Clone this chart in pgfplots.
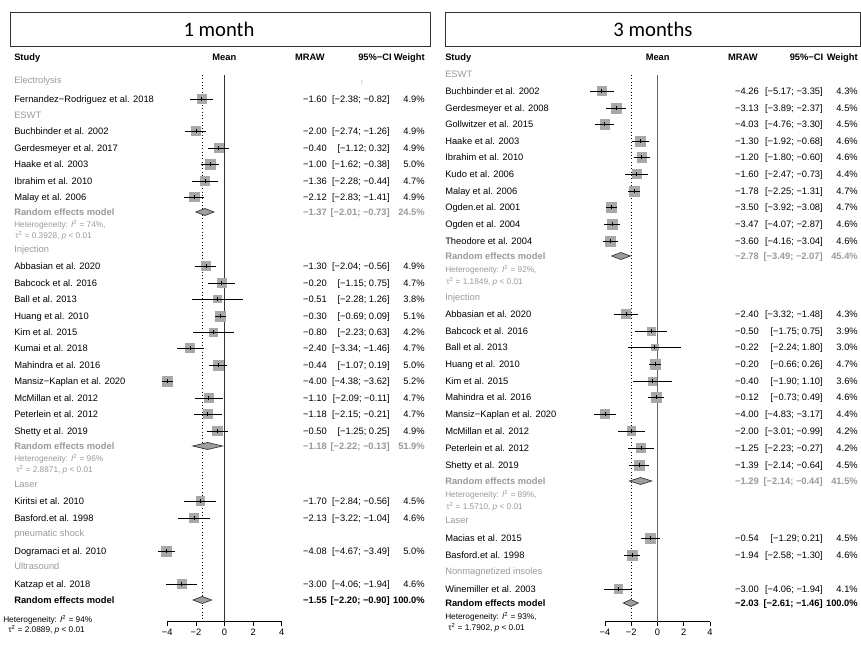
\documentclass[border=0pt]{standalone}
\usepackage{pgfplots}
\pgfplotsset{compat=1.18}
\usepackage{pgfplotstable}
\usepackage{fontspec}
\setmainfont{Liberation Sans}
\newfontfamily\titlefont{Carlito}
\definecolor{txtgray}{gray}{0.6}
\definecolor{sqgray}{gray}{0.66}
\definecolor{dmgray}{gray}{0.62}
\newcommand\fs{\fontsize{7}{8}\selectfont}
\newcommand\hs{\fontsize{6.2}{7}\selectfont}

% left panel (1 month): y = row position, m = MRAW, lo/hi = 95% CI, w = weight
\pgfplotstableread{
y m lo hi w
99 -1.60 -2.38 -0.82 4.9
131 -2.00 -2.74 -1.26 4.9
148 -0.40 -1.12 0.32 4.9
164 -1.00 -1.62 -0.38 5.0
181 -1.36 -2.28 -0.44 4.7
197 -2.12 -2.83 -1.41 4.9
266 -1.30 -2.04 -0.56 4.9
283 -0.20 -1.15 0.75 4.7
299 -0.51 -2.28 1.26 3.8
316 -0.30 -0.69 0.09 5.1
332 -0.80 -2.23 0.63 4.2
348 -2.40 -3.34 -1.46 4.7
365 -0.44 -1.07 0.19 5.0
381 -4.00 -4.38 -3.62 5.2
398 -1.10 -2.09 -0.11 4.7
414 -1.18 -2.15 -0.21 4.7
431 -0.50 -1.25 0.25 4.9
501 -1.70 -2.84 -0.56 4.5
518 -2.13 -3.22 -1.04 4.6
551 -4.08 -4.67 -3.49 5.0
584 -3.00 -4.06 -1.94 4.6
}\Lstud

% right panel (3 months)
\pgfplotstableread{
y m lo hi w
91 -4.26 -5.17 -3.35 4.3
108 -3.13 -3.89 -2.37 4.5
124 -4.03 -4.76 -3.30 4.5
141 -1.30 -1.92 -0.68 4.6
157 -1.20 -1.80 -0.60 4.6
174 -1.60 -2.47 -0.73 4.4
191 -1.78 -2.25 -1.31 4.7
207 -3.50 -3.92 -3.08 4.7
224 -3.47 -4.07 -2.87 4.6
241 -3.60 -4.16 -3.04 4.6
314 -2.40 -3.32 -1.48 4.3
331 -0.50 -1.75 0.75 3.9
347 -0.22 -2.24 1.80 3.0
364 -0.20 -0.66 0.26 4.7
381 -0.40 -1.90 1.10 3.6
397 -0.12 -0.73 0.49 4.6
414 -4.00 -4.83 -3.17 4.4
431 -2.00 -3.01 -0.99 4.2
448 -1.25 -2.23 -0.27 4.2
465 -1.39 -2.14 -0.64 4.5
538 -0.54 -1.29 0.21 4.5
555 -1.94 -2.58 -1.30 4.6
589 -3.00 -4.06 -1.94 4.1
}\Rstud

\pgfplotsset{forest/.style={
  scale only axis, clip=false, clip marker paths=true, anchor=south west,
  axis x line*=bottom, axis y line=none,
  axis line style={-, black, line width=0.5pt},
  xtick={-4,-2,0,2,4}, xticklabels={−4,−2,0,2,4},
  tick align=outside, major tick length=3pt,
  tick style={black, line width=0.5pt},
  xticklabel style={font=\fs, inner sep=1pt, yshift=-1.5pt},
  ymin=-621.5, ymax=-50, height=428.625pt, xmin=-4, xmax=4}}

\newcommand\sqplot[2]{% table, max weight
  \addplot[scatter, only marks, mark=square*, point meta=\thisrow{w},
    scatter/use mapped color={draw=sqgray, fill=sqgray},
    visualization depends on={\thisrow{w}/#2*3.75 \as \ms},
    scatter/@pre marker code/.append style={/tikz/mark size=\ms pt}]
    table[x=m, y expr=-\thisrow{y}] {#1};
  \addplot[draw=none, mark=none,
    error bars/.cd, x dir=both, x explicit, y dir=both, y fixed=1.6,
    error mark=none,
    error bar style={draw=black, solid, line width=0.5pt}]
    table[x=m, y expr=-\thisrow{y},
      x error plus expr=\thisrow{hi}-\thisrow{m},
      x error minus expr=\thisrow{m}-\thisrow{lo}] {#1};}

\newcommand\Lr[6][]{%
  \node[lab] at (14,#2) {#1#3};
  \node[num] at (327,#2) {#1#4};
  \node[num] at (390,#2) {#1#5};
  \node[num] at (425,#2) {#1#6};}
\newcommand\Rr[6][]{%
  \node[lab] at (445,#2) {#1#3};
  \node[num] at (759,#2) {#1#4};
  \node[num] at (823,#2) {#1#5};
  \node[num] at (858,#2) {#1#6};}
\newcommand\grp{\color{txtgray}}
\newcommand\reg{\bfseries\color{txtgray}}

\begin{document}
\begin{tikzpicture}
\useasboundingbox (0,0) rectangle (645.75pt,-483.75pt);

% ---------- left axis ----------
\begin{axis}[forest, at={(125.475pt,-466.125pt)}, width=85.8pt]
  \addplot[black!80, line width=0.5pt] coordinates {(0,-75) (0,-621.5)};
  \addplot[black, dotted, line width=0.5pt] coordinates {(-1.55,-75) (-1.55,-621.5)};
  \sqplot{\Lstud}{5.2}
  \addplot[fill=dmgray, draw=black!80, line width=0.5pt] coordinates {(-2.01,-212) (-1.37,-208.5) (-0.73,-212) (-1.37,-215.5)} -- cycle;
  \addplot[fill=dmgray, draw=black!80, line width=0.5pt] coordinates {(-2.22,-446) (-1.18,-442.5) (-0.13,-446) (-1.18,-449.5)} -- cycle;
  \addplot[fill=dmgray, draw=black!80, line width=0.5pt] coordinates {(-2.20,-600) (-1.55,-596.5) (-0.90,-600) (-1.55,-603.5)} -- cycle;
\end{axis}

% ---------- right axis ----------
\begin{axis}[forest, at={(453.75pt,-466.125pt)}, width=78.75pt]
  \addplot[black!60, line width=0.6pt] coordinates {(0,-75) (0,-621.5)};
  \addplot[black, dotted, line width=0.5pt] coordinates {(-2.03,-75) (-2.03,-621.5)};
  \sqplot{\Rstud}{4.7}
  \addplot[fill=dmgray, draw=black!80, line width=0.5pt] coordinates {(-3.49,-256) (-2.78,-252.5) (-2.07,-256) (-2.78,-259.5)} -- cycle;
  \addplot[fill=dmgray, draw=black!80, line width=0.5pt] coordinates {(-2.14,-481) (-1.29,-477.5) (-0.44,-481) (-1.29,-484.5)} -- cycle;
  \addplot[fill=dmgray, draw=black!80, line width=0.5pt] coordinates {(-2.61,-603) (-2.03,-599.5) (-1.46,-603) (-2.03,-606.5)} -- cycle;
\end{axis}

\begin{scope}[x=0.75pt, y=-0.75pt,
  lab/.style={anchor=base west, inner sep=0pt, yshift=-2.5pt, font=\fs},
  num/.style={anchor=base east, inner sep=0pt, yshift=-2.5pt, font=\fs},
  mid/.style={anchor=base, inner sep=0pt, yshift=-2.5pt, font=\fs},
  het/.style={anchor=base west, inner sep=0pt, yshift=-2.2pt, font=\hs, text=txtgray}]

% ---------- titles ----------
\draw[black!80, line width=0.6pt] (10,12) rectangle (430,46);
\node[font=\titlefont\fontsize{15.5}{17}\selectfont] at (219,29.5) {1 month};
\draw[black!80, line width=0.6pt] (445,12) rectangle (860.5,46);
\node[font=\titlefont\fontsize{15.5}{17}\selectfont] at (653,29.5) {3 months};

% ---------- left text ----------
\node[lab] at (14,57) {\bfseries Study};
\node[mid] at (224.3,57) {\bfseries Mean};
\node[num] at (325,57) {\bfseries MRAW};
\node[num] at (392,57) {\bfseries 95\%−CI};
\node[num] at (425,57) {\bfseries Weight};

\node[lab] at (14,80) {\grp Electrolysis};
\node[font=\fontsize{5}{6}\selectfont, text=txtgray!70] at (362,82) {t};
\Lr{99}{Fernandez−Rodriguez et al. 2018}{−1.60}{[−2.38; −0.82]}{4.9\%}
\node[lab] at (14,115) {\grp ESWT};
\Lr{131}{Buchbinder et al. 2002}{−2.00}{[−2.74; −1.26]}{4.9\%}
\Lr{148}{Gerdesmeyer et al. 2017}{−0.40}{[−1.12; 0.32]}{4.9\%}
\Lr{164}{Haake et al. 2003}{−1.00}{[−1.62; −0.38]}{5.0\%}
\Lr{181}{Ibrahim et al. 2010}{−1.36}{[−2.28; −0.44]}{4.7\%}
\Lr{197}{Malay et al. 2006}{−2.12}{[−2.83; −1.41]}{4.9\%}
\Lr[\reg]{212}{Random effects model}{−1.37}{[−2.01; −0.73]}{24.5\%}
\node[het] at (14,225) {Heterogeneity: {\itshape I}\textsuperscript{2} = 74\%,};
\node[het] at (15,235.5) {τ\textsuperscript{2} = 0.3928, {\itshape p} < 0.01};
\node[lab] at (14,249) {\grp Injection};
\Lr{266}{Abbasian et al. 2020}{−1.30}{[−2.04; −0.56]}{4.9\%}
\Lr{283}{Babcock et al. 2016}{−0.20}{[−1.15; 0.75]}{4.7\%}
\Lr{299}{Ball et al. 2013}{−0.51}{[−2.28; 1.26]}{3.8\%}
\Lr{316}{Huang et al. 2010}{−0.30}{[−0.69; 0.09]}{5.1\%}
\Lr{332}{Kim et al. 2015}{−0.80}{[−2.23; 0.63]}{4.2\%}
\Lr{348}{Kumai et al. 2018}{−2.40}{[−3.34; −1.46]}{4.7\%}
\Lr{365}{Mahindra et al. 2016}{−0.44}{[−1.07; 0.19]}{5.0\%}
\Lr{381}{Mansiz−Kaplan et al. 2020}{−4.00}{[−4.38; −3.62]}{5.2\%}
\Lr{398}{McMillan et al. 2012}{−1.10}{[−2.09; −0.11]}{4.7\%}
\Lr{414}{Peterlein et al. 2012}{−1.18}{[−2.15; −0.21]}{4.7\%}
\Lr{431}{Shetty et al. 2019}{−0.50}{[−1.25; 0.25]}{4.9\%}
\Lr[\reg]{446}{Random effects model}{−1.18}{[−2.22; −0.13]}{51.9\%}
\node[het] at (14,458.5) {Heterogeneity: {\itshape I}\textsuperscript{2} = 96\%};
\node[het] at (16,470) {τ\textsuperscript{2} = 2.8871, {\itshape p} < 0.01};
\node[lab] at (14,484) {\grp Laser};
\Lr{501}{Kiritsi et al. 2010}{−1.70}{[−2.84; −0.56]}{4.5\%}
\Lr{518}{Basford.et al. 1998}{−2.13}{[−3.22; −1.04]}{4.6\%}
\node[lab] at (14,533) {\grp pneumatic shock};
\Lr{551}{Dogramaci et al. 2010}{−4.08}{[−4.67; −3.49]}{5.0\%}
\node[lab] at (14,566) {\grp Ultrasound};
\Lr{584}{Katzap et al. 2018}{−3.00}{[−4.06; −1.94]}{4.6\%}
\Lr[\bfseries]{600}{Random effects model}{−1.55}{[−2.20; −0.90]}{100.0\%}
\node[het, text=black] at (3,619.5) {Heterogeneity: {\itshape I}\textsuperscript{2} = 94\%};
\node[het, text=black] at (8,630) {τ\textsuperscript{2} = 2.0889, {\itshape p} < 0.01};

% ---------- right text ----------
\node[lab] at (445,57) {\bfseries Study};
\node[mid] at (657.7,57) {\bfseries Mean};
\node[num] at (758,57) {\bfseries MRAW};
\node[num] at (823.5,57) {\bfseries 95\%−CI};
\node[num] at (858,57) {\bfseries Weight};

\node[lab] at (445,74) {\grp ESWT};
\Rr{91}{Buchbinder et al. 2002}{−4.26}{[−5.17; −3.35]}{4.3\%}
\Rr{108}{Gerdesmeyer et al. 2008}{−3.13}{[−3.89; −2.37]}{4.5\%}
\Rr{124}{Gollwitzer et al. 2015}{−4.03}{[−4.76; −3.30]}{4.5\%}
\Rr{141}{Haake et al. 2003}{−1.30}{[−1.92; −0.68]}{4.6\%}
\Rr{157}{Ibrahim et al. 2010}{−1.20}{[−1.80; −0.60]}{4.6\%}
\Rr{174}{Kudo et al. 2006}{−1.60}{[−2.47; −0.73]}{4.4\%}
\Rr{191}{Malay et al. 2006}{−1.78}{[−2.25; −1.31]}{4.7\%}
\Rr{207}{Ogden.et al. 2001}{−3.50}{[−3.92; −3.08]}{4.7\%}
\Rr{224}{Ogden et al. 2004}{−3.47}{[−4.07; −2.87]}{4.6\%}
\Rr{241}{Theodore et al. 2004}{−3.60}{[−4.16; −3.04]}{4.6\%}
\Rr[\reg]{256}{Random effects model}{−2.78}{[−3.49; −2.07]}{45.4\%}
\node[het] at (445,270) {Heterogeneity: {\itshape I}\textsuperscript{2} = 92\%,};
\node[het] at (446,282) {τ\textsuperscript{2} = 1.1849, {\itshape p} < 0.01};
\node[lab] at (445,297) {\grp Injection};
\Rr{314}{Abbasian et al. 2020}{−2.40}{[−3.32; −1.48]}{4.3\%}
\Rr{331}{Babcock et al. 2016}{−0.50}{[−1.75; 0.75]}{3.9\%}
\Rr{347}{Ball et al. 2013}{−0.22}{[−2.24; 1.80]}{3.0\%}
\Rr{364}{Huang et al. 2010}{−0.20}{[−0.66; 0.26]}{4.7\%}
\Rr{381}{Kim et al. 2015}{−0.40}{[−1.90; 1.10]}{3.6\%}
\Rr{397}{Mahindra et al. 2016}{−0.12}{[−0.73; 0.49]}{4.6\%}
\Rr{414}{Mansiz−Kaplan et al. 2020}{−4.00}{[−4.83; −3.17]}{4.4\%}
\Rr{431}{McMillan et al. 2012}{−2.00}{[−3.01; −0.99]}{4.2\%}
\Rr{448}{Peterlein et al. 2012}{−1.25}{[−2.23; −0.27]}{4.2\%}
\Rr{465}{Shetty et al. 2019}{−1.39}{[−2.14; −0.64]}{4.5\%}
\Rr[\reg]{481}{Random effects model}{−1.29}{[−2.14; −0.44]}{41.5\%}
\node[het] at (445,495) {Heterogeneity: {\itshape I}\textsuperscript{2} = 89\%,};
\node[het] at (446,507) {τ\textsuperscript{2} = 1.5710, {\itshape p} < 0.01};
\node[lab] at (445,520) {\grp Laser};
\Rr{538}{Macias et al. 2015}{−0.54}{[−1.29; 0.21]}{4.5\%}
\Rr{555}{Basford.et al. 1998}{−1.94}{[−2.58; −1.30]}{4.6\%}
\node[lab] at (445,571) {\grp Nonmagnetized insoles};
\Rr{589}{Winemiller et al. 2003}{−3.00}{[−4.06; −1.94]}{4.1\%}
\Rr[\bfseries]{603}{Random effects model}{−2.03}{[−2.61; −1.46]}{100.0\%}
\node[het, text=black] at (445,617) {Heterogeneity: {\itshape I}\textsuperscript{2} = 93\%,};
\node[het, text=black] at (448,628) {τ\textsuperscript{2} = 1.7902, {\itshape p} < 0.01};
\end{scope}
\end{tikzpicture}
\end{document}
